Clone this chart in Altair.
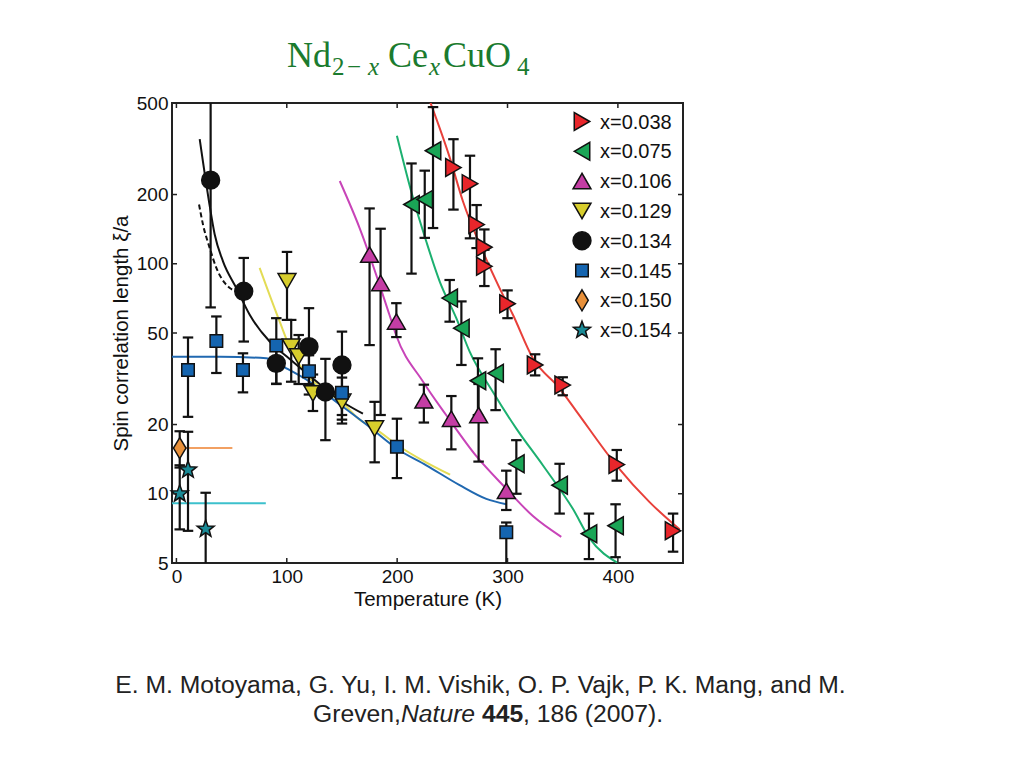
import altair as alt
import pandas as pd

FONT = "Liberation Sans"
W, H = 511, 460

labels = ["x=0.038", "x=0.075", "x=0.106", "x=0.129", "x=0.134", "x=0.145", "x=0.150", "x=0.154"]
fills = ["#e8262b", "#1aa556", "#c43da4", "#d7cd2c", "#111111", "#1565b0", "#e8903a", "#1a8a96"]
line_colors = ["#e8403a", "#1cb070", "#c844b8", "#e3dc55", "#111111", "#2068b0", "#f2a062", "#3cc0cc"]
STAR = "M0,-1L0.247,-0.34L0.951,-0.309L0.399,0.13L0.588,0.809L0,0.42L-0.588,0.809L-0.399,0.13L-0.951,-0.309L-0.247,-0.34Z"
DIAMOND = "M0,-1.17L0.7,0L0,1.17L-0.7,0Z"
SQUARE = "M-0.7,-0.7L0.7,-0.7L0.7,0.7L-0.7,0.7Z"
shapes = ["triangle-right", "triangle-left", "triangle-up", "triangle-down", "circle", SQUARE, DIAMOND, STAR]

x_ticks = [0, 100, 200, 300, 400]
y_ticks = [5, 10, 20, 50, 100, 200, 500]

# ---- measured data points: temperature (K), xi/a, error low, error high
t038 = [251, 266, 272, 279, 279, 300, 325, 350, 399, 450]
v038 = [262, 223, 148, 118, 97.5, 67, 36.3, 29.7, 13.4, 6.9]
lo038 = [172, 129, 117, 100, 80, 58, 32.7, 26.8, 11.4, 5.6]
hi038 = [348, 295, 180, 141, 115, 76.6, 40.4, 32.1, 15.5, 8.2]

t075 = [213, 225, 232.5, 247.6, 258.2, 273.2, 289.2, 308, 347.2, 373.8, 397.9]
v075 = [181, 190.5, 310, 70.9, 52.5, 31, 33.4, 13.5, 10.9, 6.7, 7.26]
lo075 = [90.6, 129.6, 143, 56, 36.3, 22, 23.1, 10, 8.2, 5.2, 5.3]
hi075 = [273, 254, 480, 85, 68.6, 38.8, 42.5, 17.1, 13.5, 8.2, 9.0]

t106 = [175, 185, 199.3, 224.2, 249.1, 273.8, 298.9]
v106 = [109.7, 82.5, 56.1, 25.5, 21.2, 22, 10.3]
lo106 = [44.3, 22, 48, 20.4, 15.6, 13.8, 8.5]
hi106 = [174, 142, 67.4, 29.8, 26.6, 30, 12.6]

t129 = [100.2, 104, 110.8, 123.7, 150, 179.6]
v129 = [83.9, 43.6, 39.5, 27.3, 25.1, 19.2]
lo129 = [57, 30.7, 30, 22.9, 21, 13.7]
hi129 = [112.6, 57, 49, 33, 28, 25.1]

t134 = [31, 61, 90.5, 120.1, 135, 150]
v134 = [231, 75.9, 36.9, 43.6, 27.7, 36.3]
lo134 = [64.6, 45.9, 30.1, 30, 17.1, 20.2]
hi134 = [700, 106, 45, 64.1, 38.6, 50.7]

t145 = [10.5, 36.2, 60.3, 90.5, 120.1, 150, 199.8, 298.9]
v145 = [34.5, 46.2, 34.5, 44.1, 34.1, 27.5, 16, 6.8]
lo145 = [21.6, 33.5, 27.6, 30, 27, 22, 11.7, 4]
hi145 = [47.8, 59, 40.8, 58, 40, 32, 21.2, 7.5]

t150 = [3]
v150 = [15.8]
lo150 = [13]
hi150 = [18.7]

t154 = [3, 10.5, 26.5]
v154 = [10, 12.7, 7.03]
lo154 = [7, 6.9, 4]
hi154 = [13.3, 18.6, 10.1]

# ---- fitted curves
ct038 = [229.4, 247.6, 259.6, 277.7, 292.8, 304.9, 323, 347, 362, 398.6, 428.7, 455.9]
cv038 = [513, 290, 187, 113, 78.4, 60, 38.8, 28.8, 23, 13.3, 9.2, 7.0]
ct075 = [199.8, 214.3, 226.4, 238.5, 253.6, 265.7, 286.8, 308, 332, 359.2, 374.4, 400]
cv075 = [360, 194, 125, 83.9, 58, 41.5, 27.7, 19.2, 13.3, 8.6, 6.4, 5]
ct106 = [148, 166, 193, 199, 223.5, 244.4, 271.6, 299, 323, 348.7]
cv106 = [229, 143, 60, 49, 30.7, 22, 14.6, 10.5, 8.0, 6.5]
ct129 = [75.4, 93.6, 104, 118, 135, 150, 166, 180, 200, 225, 248]
cv129 = [96, 56, 42, 33, 28, 25, 21, 19.2, 16.3, 13.8, 12.1]
ct134 = [21.1, 29.5, 34.7, 42.2, 54.3, 66.4, 84.5, 100, 123.7, 151, 169]
cv134 = [348, 187, 134, 102.5, 78.4, 60, 45.9, 39.5, 31.7, 25, 22.3]
ct145 = [-4, 40, 81.5, 99.6, 120.7, 144.9, 175, 199.8, 226.4, 256.6, 280.8, 298.9]
cv145 = [39.4, 39.4, 38.8, 35.1, 30.7, 25.1, 19.5, 15.7, 13.3, 10.9, 9.5, 9.0]
ct150 = [3, 50.7]
cv150 = [15.8, 15.8]
ct154 = [-4, 81]
cv154 = [9.1, 9.1]
dash_t = [20.5, 24.1, 30.2, 36.2, 43.8, 48.4, 55]
dash_v = [181, 148, 117, 95.9, 82.5, 78.4, 76]

point_sets = [
    (t038, v038, lo038, hi038), (t075, v075, lo075, hi075), (t106, v106, lo106, hi106),
    (t129, v129, lo129, hi129), (t134, v134, lo134, hi134), (t145, v145, lo145, hi145),
    (t150, v150, lo150, hi150), (t154, v154, lo154, hi154),
]
curve_sets = [(ct038, cv038), (ct075, cv075), (ct106, cv106), (ct129, cv129),
              (ct134, cv134), (ct145, cv145), (ct150, cv150), (ct154, cv154)]

rows = []
for lab, (ts, vs, los, his) in zip(labels, point_sets):
    for t, v, l, h in zip(ts, vs, los, his):
        rows.append({"label": lab, "T": t, "xi": v, "lo": l, "hi": h})
points = pd.DataFrame(rows)

crows = []
for lab, (ts, vs) in zip(labels, curve_sets):
    for i, (t, v) in enumerate(zip(ts, vs)):
        crows.append({"label": lab, "T": t, "xi": v, "i": i})
curves = pd.DataFrame(crows)
dashed = pd.DataFrame({"T": dash_t, "xi": dash_v, "i": list(range(len(dash_t)))})


def X(field):
    return alt.X(f"{field}:Q",
                 scale=alt.Scale(domain=[-4, 459], nice=False, zero=False),
                 axis=alt.Axis(values=x_ticks, title="Temperature (K)", grid=False, domain=False,
                               ticks=False, tickSize=0, labelFont=FONT, labelFontSize=19,
                               labelPadding=4, labelColor="#111", labelFlush=False,
                               titleFont=FONT, titleFontSize=20.5, titleFontWeight="normal",
                               titlePadding=3, titleColor="#111"))


def Y(field):
    return alt.Y(f"{field}:Q",
                 scale=alt.Scale(type="log", domain=[5, 500], nice=False),
                 axis=alt.Axis(values=y_ticks, format="d", title="Spin correlation length ξ/a",
                               grid=False, domain=False, ticks=False, tickSize=0,
                               labelFont=FONT, labelFontSize=19, labelPadding=4,
                               labelColor="#111", labelFlush=False,
                               titleFont=FONT, titleFontSize=20.5, titleFontWeight="normal",
                               titlePadding=5, titleColor="#111"))


line_layer = alt.Chart(curves).mark_line(strokeWidth=2, clip=True, interpolate="monotone").encode(
    x=X("T"), y=Y("xi"), order="i:Q",
    stroke=alt.Stroke("label:N", scale=alt.Scale(domain=labels, range=line_colors), legend=None),
)
dash_layer = alt.Chart(dashed).mark_line(strokeWidth=2, strokeDash=[5, 3], color="#111",
                                         clip=True, interpolate="monotone").encode(
    x=X("T"), y=Y("xi"), order="i:Q")

err_layer = alt.Chart(points).mark_rule(color="#111", strokeWidth=2.2, clip=True).encode(
    x=X("T"), y=Y("lo"), y2="hi:Q")
cap_lo = alt.Chart(points).mark_point(shape="stroke", size=110, strokeWidth=2.2, color="#111",
                                      opacity=1, clip=True).encode(x=X("T"), y=Y("lo"))
cap_hi = alt.Chart(points).mark_point(shape="stroke", size=110, strokeWidth=2.2, color="#111",
                                      opacity=1, clip=True).encode(x=X("T"), y=Y("hi"))

marker_layer = alt.Chart(points).mark_point(filled=True, opacity=1, size=320, stroke="#111",
                                            strokeWidth=1.5).encode(
    x=X("T"), y=Y("xi"),
    fill=alt.Fill("label:N", scale=alt.Scale(domain=labels, range=fills), legend=None),
    shape=alt.Shape("label:N", scale=alt.Scale(domain=labels, range=shapes), legend=None),
)

# ---- key (legend) drawn inside the plot, top right
LEG_SYM_X, LEG_TXT_X, LEG_Y0, LEG_DY = 410, 428, 18.5, 29.8
legend_layers = []
for i, lab in enumerate(labels):
    ld = pd.DataFrame({"label": [lab]})
    legend_layers.append(
        alt.Chart(ld).mark_point(shape=shapes[i], fill=fills[i], filled=True, size=320, opacity=1,
                                 stroke="#111", strokeWidth=1.5).encode(
            x=alt.value(LEG_SYM_X), y=alt.value(LEG_Y0 + LEG_DY * i)))
    legend_layers.append(
        alt.Chart(ld).mark_text(align="left", baseline="middle", font=FONT, fontSize=20,
                                color="#111").encode(
            text="label:N", x=alt.value(LEG_TXT_X), y=alt.value(LEG_Y0 + LEG_DY * i + 1)))

xt = pd.DataFrame({"T": x_ticks})
yt = pd.DataFrame({"xi": y_ticks})
tick_style = dict(color="#222", strokeWidth=1.5)
ticks = [
    alt.Chart(xt).mark_rule(**tick_style).encode(x=X("T"), y=alt.value(H), y2=alt.value(H - 5)),
    alt.Chart(xt).mark_rule(**tick_style).encode(x=X("T"), y=alt.value(0), y2=alt.value(5)),
    alt.Chart(yt).mark_rule(**tick_style).encode(y=Y("xi"), x=alt.value(0), x2=alt.value(5)),
    alt.Chart(yt).mark_rule(**tick_style).encode(y=Y("xi"), x=alt.value(W - 5), x2=alt.value(W)),
]


def txt(s, x, y, size, color="#222", font=FONT, style="normal", weight="normal", align="left"):
    return alt.Chart(pd.DataFrame({"s": [s]})).mark_text(
        align=align, baseline="alphabetic", fontSize=size, font=font, fontStyle=style,
        fontWeight=weight, color=color).encode(text="s:N", x=alt.value(x), y=alt.value(y))


TC = "#1b7b2e"
SERIF = "Liberation Serif"
title_parts = [
    txt("Nd", 115, -36, 36, TC, SERIF),
    txt("2", 160, -28, 25, TC, SERIF),
    txt("−", 175, -28, 25, TC, SERIF),
    txt("x", 196, -28, 25, TC, SERIF, style="italic"),
    txt("Ce", 216, -36, 36, TC, SERIF),
    txt("x", 257, -28, 25, TC, SERIF, style="italic"),
    txt("CuO", 271, -36, 36, TC, SERIF),
    txt("4", 345, -28, 25, TC, SERIF),
]
caption = [
    txt("E. M. Motoyama, G. Yu, I. M. Vishik, O. P.  Vajk, P. K. Mang, and M.", 308.5, 590, 24.7,
        align="center"),
    txt("Greven,", 141, 619, 24.7),
    txt("Nature", 229, 619, 24.7, style="italic"),
    txt("445", 310, 619, 24.7, weight="bold"),
    txt(", 186 (2007).", 351, 619, 24.7),
]

chart = alt.layer(
    line_layer, dash_layer, err_layer, cap_lo, cap_hi, marker_layer, *legend_layers, *ticks,
    *title_parts, *caption
).properties(
    width=W, height=H,
    padding={"left": 164, "top": 95, "right": 300, "bottom": 185},
    autosize=alt.AutoSizeParams(type="none"),
    background="white",
).configure_view(stroke="#222", strokeWidth=2)

chart.save("out.html", embed_options={"renderer": "svg", "actions": False})
